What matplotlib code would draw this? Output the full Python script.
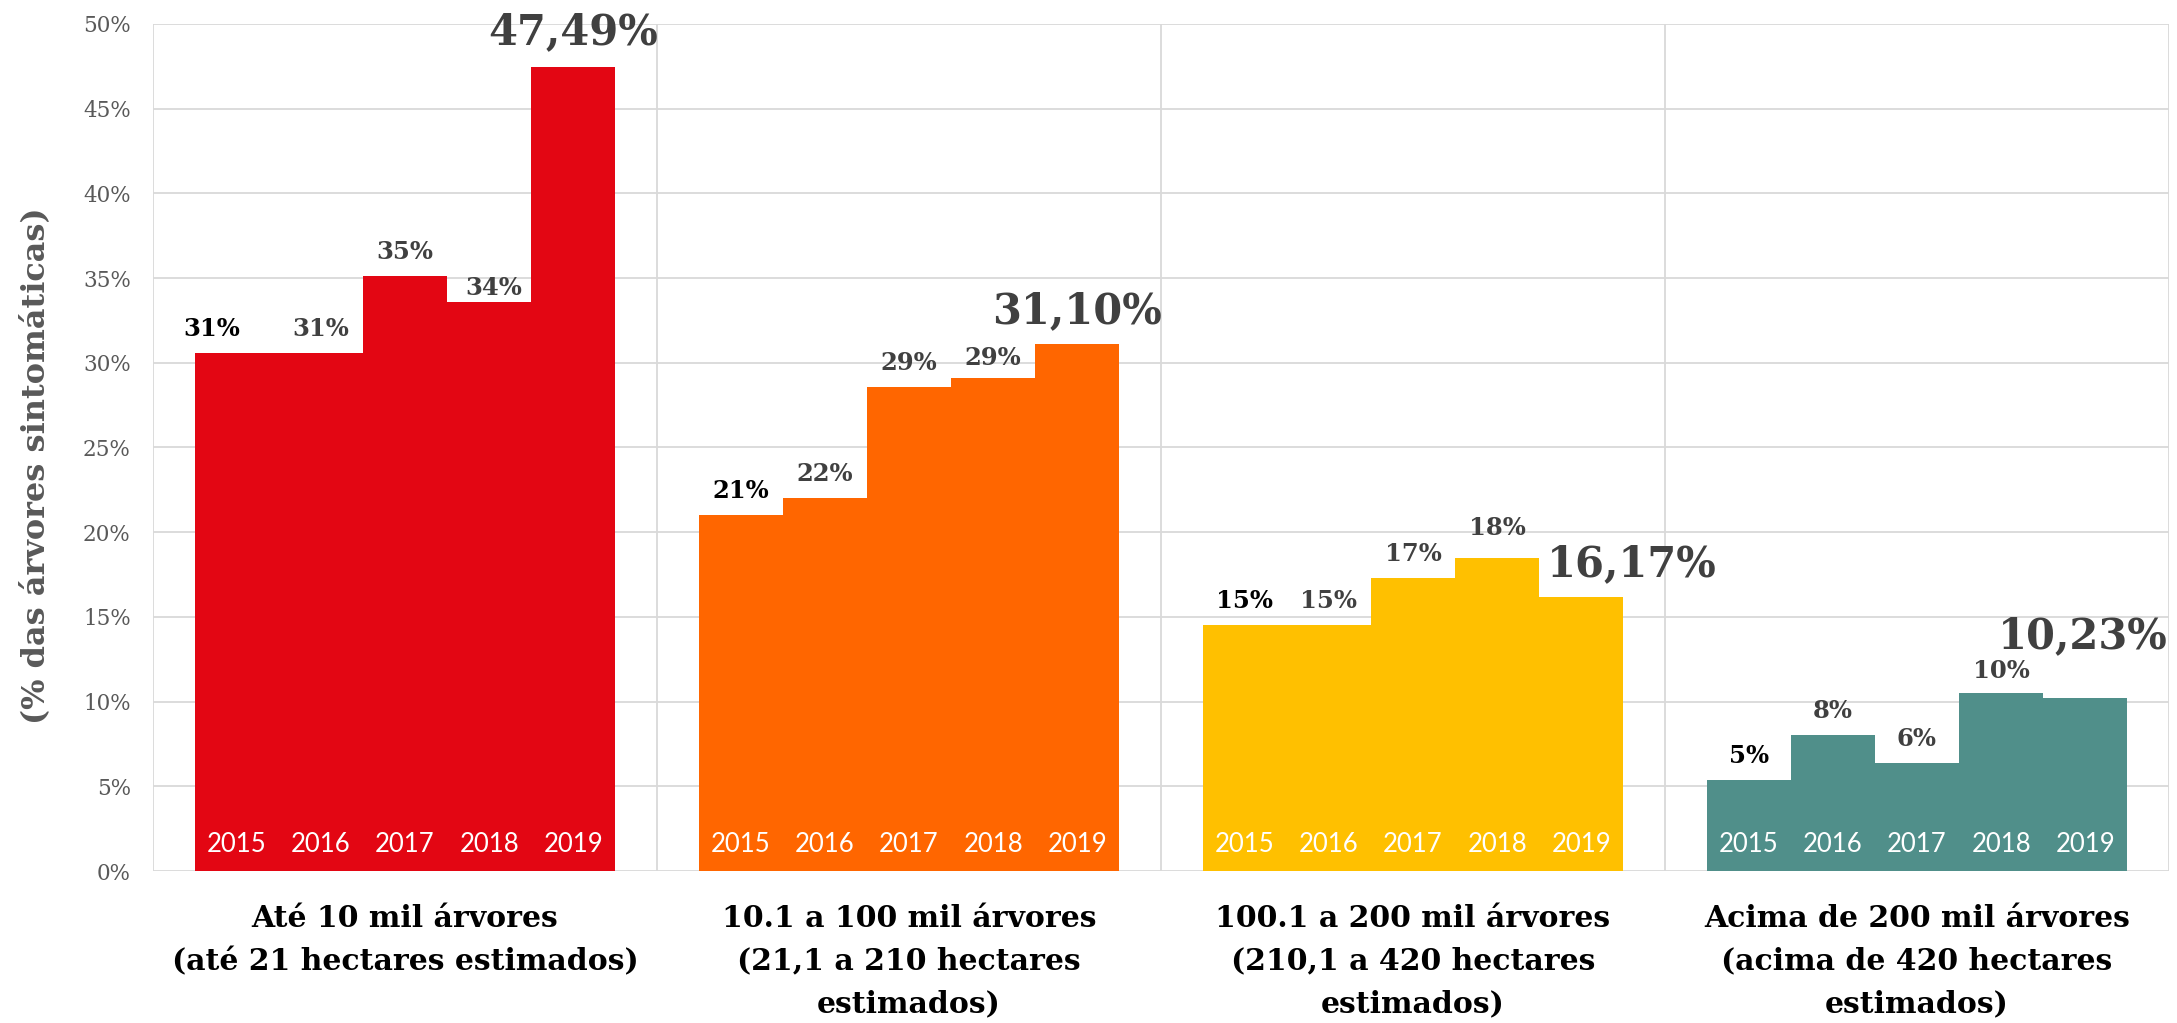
import matplotlib
matplotlib.use("Agg")
import matplotlib.pyplot as plt
from matplotlib.ticker import FixedLocator, FuncFormatter

# ---- data ----
categories = [
    "Até 10 mil árvores\n(até 21 hectares estimados)",
    "10.1 a 100 mil árvores\n(21,1 a 210 hectares\nestimados)",
    "100.1 a 200 mil árvores\n(210,1 a 420 hectares\nestimados)",
    "Acima de 200 mil árvores\n(acima de 420 hectares\nestimados)",
]
years = ["2015", "2016", "2017", "2018", "2019"]
values_ate10 = [30.6, 30.6, 35.1, 33.6, 47.49]
values_10_100 = [21.0, 22.0, 28.6, 29.1, 31.10]
values_100_200 = [14.5, 14.5, 17.3, 18.5, 16.17]
values_acima200 = [5.4, 8.0, 6.4, 10.5, 10.23]
labels_ate10 = ["31%", "31%", "35%", "34%", "47,49%"]
labels_10_100 = ["21%", "22%", "29%", "29%", "31,10%"]
labels_100_200 = ["15%", "15%", "17%", "18%", "16,17%"]
labels_acima200 = ["5%", "8%", "6%", "10%", "10,23%"]
y_ticks = [0, 5, 10, 15, 20, 25, 30, 35, 40, 45, 50]

series = [values_ate10, values_10_100, values_100_200, values_acima200]
series_labels = [labels_ate10, labels_10_100, labels_100_200, labels_acima200]

# ---- style ----
colors = ["#E30613", "#FF6600", "#FFC000", "#508F8A"]
grid_color = "#D9D9D9"
bar_w = 0.167
# label offsets in pixels (dx, dy) for special cases
label_offsets = {(0, 0): (-25, 17), (0, 3): (5, 7), (0, 4): (0, 22),
                 (1, 3): (0, 13), (1, 4): (0, 21), (2, 3): (0, 23),
                 (2, 4): (50, 21), (3, 3): (0, 15), (3, 4): (-3, 50)}

serif = "DejaVu Serif"

fig = plt.figure(figsize=(21.77, 10.23), dpi=100)
ax = fig.add_axes([153 / 2177, 1 - 871 / 1023, (2169 - 153) / 2177, (871 - 24) / 1023])

n = len(years)
for gi, (vals, labs) in enumerate(zip(series, series_labels)):
    for bi, (v, lab) in enumerate(zip(vals, labs)):
        x = gi - n * bar_w / 2 + (bi + 0.5) * bar_w
        ax.bar(x, v, width=bar_w, color=colors[gi], linewidth=0, zorder=3)
        dx, dy = label_offsets.get((gi, bi), (0, 17))
        big = bi == n - 1
        ax.annotate(lab, (x, v), xytext=(dx, dy), textcoords="offset pixels",
                    ha="center", va="baseline", fontfamily=serif,
                    fontweight="bold", fontsize=30 if big else 17.5,
                    color="#000000" if bi == 0 else "#404040", zorder=5)
        ax.annotate(years[bi], (x, 0), xytext=(0, 19), textcoords="offset pixels",
                    ha="center", va="baseline", fontfamily="Lato",
                    fontsize=18.5, color="white", zorder=5)

ax.set_xlim(-0.5, 3.5)
ax.set_ylim(0, 50)
ax.yaxis.set_major_locator(FixedLocator(y_ticks))
ax.yaxis.set_major_formatter(FuncFormatter(lambda v, p: f"{int(v)}%"))
ax.xaxis.set_major_locator(FixedLocator([-0.5, 0.5, 1.5, 2.5, 3.5]))
ax.set_xticklabels([])
ax.grid(True, color=grid_color, linewidth=1.3, zorder=0)
ax.set_axisbelow(True)
for s in ax.spines.values():
    s.set_visible(False)
ax.tick_params(axis="both", length=0)
ax.tick_params(axis="y", pad=16, labelsize=15.5, labelcolor="#595959")
for t in ax.get_yticklabels():
    t.set_fontfamily(serif)

for gi, cat in enumerate(categories):
    ax.annotate(cat, (gi, 0), xytext=(0, -33), textcoords="offset pixels",
                ha="center", va="top", fontfamily=serif, fontweight="bold",
                fontsize=21.5, color="black", linespacing=1.6,
                annotation_clip=False)

fig.text(36 / 2177, 1 - 466 / 1023, "(% das árvores sintomáticas)", rotation=90,
         ha="center", va="center", fontfamily=serif, fontweight="bold",
         fontsize=23, color="#595959")

fig.savefig("out.png", dpi=100, facecolor="white")
